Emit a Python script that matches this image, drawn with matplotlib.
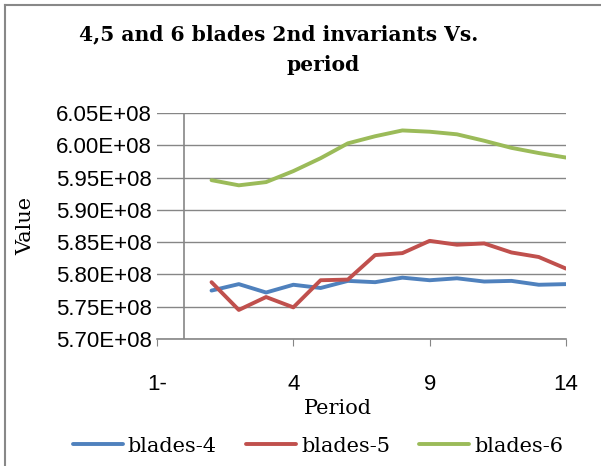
import matplotlib
matplotlib.use("Agg")
import matplotlib.pyplot as plt
from matplotlib.lines import Line2D

W, H = 601, 466

period   = list(range(1, 15))
blades_4 = [5.775, 5.785, 5.772, 5.784, 5.779, 5.790, 5.788, 5.795, 5.791, 5.794, 5.789, 5.790, 5.784, 5.785]
blades_5 = [5.788, 5.745, 5.765, 5.749, 5.791, 5.792, 5.830, 5.833, 5.852, 5.846, 5.848, 5.834, 5.827, 5.809]
blades_6 = [5.946, 5.938, 5.943, 5.960, 5.980, 6.003, 6.014, 6.023, 6.021, 6.017, 6.007, 5.996, 5.988, 5.981]
blades_4 = [v * 1e8 for v in blades_4]
blades_5 = [v * 1e8 for v in blades_5]
blades_6 = [v * 1e8 for v in blades_6]

y_ticks  = [5.70e8, 5.75e8, 5.80e8, 5.85e8, 5.90e8, 5.95e8, 6.00e8, 6.05e8]
y_labels = ["5.70E+08", "5.75E+08", "5.80E+08", "5.85E+08", "5.90E+08", "5.95E+08", "6.00E+08", "6.05E+08"]
x_ticks  = [-1, 4, 9, 14]
x_labels = ["1-", "4", "9", "14"]

COLORS = {"blades-4": "#4F81BD", "blades-5": "#C0504D", "blades-6": "#9BBB59"}
GRID = "#868686"
SERIF = "DejaVu Serif"
SANS = "Liberation Sans"

def fx(px): return px / W
def fy(py): return 1 - py / H

fig = plt.figure(figsize=(W / 100, H / 100), dpi=100)
ax = fig.add_axes([fx(157), fy(339), fx(566) - fx(157), fy(113) - fy(339)])

for name, vals in [("blades-4", blades_4), ("blades-5", blades_5), ("blades-6", blades_6)]:
    ax.plot(period, vals, color=COLORS[name], lw=2.8, label=name, solid_capstyle="round", zorder=3)

ax.set_xlim(-1, 14)
ax.set_ylim(5.70e8, 6.05e8)
ax.set_yticks(y_ticks)
ax.set_yticklabels(y_labels, family=SANS, fontsize=16)
ax.set_xticks(x_ticks)
ax.set_xticklabels(x_labels, family=SANS, fontsize=16)
ax.tick_params(axis="y", length=0, pad=4)
ax.tick_params(axis="x", length=5, color=GRID, pad=20)
ax.grid(axis="y", color=GRID, lw=1)
ax.axvline(0, color=GRID, lw=1.2, zorder=2)
for s in ["top", "right", "left"]:
    ax.spines[s].set_visible(False)
ax.spines["bottom"].set_color(GRID)
ax.spines["bottom"].set_linewidth(1.2)

fig.text(fx(279), fy(40), "4,5 and 6 blades 2nd invariants Vs.", ha="center", va="baseline",
         family=SERIF, fontweight="bold", fontsize=14.6)
fig.text(fx(323), fy(71), "period", ha="center", va="baseline",
         family=SERIF, fontweight="bold", fontsize=14.6)
fig.text(fx(26), fy(226), "Value", rotation=90, ha="center", va="center", family=SERIF, fontsize=15)
fig.text(fx(338), fy(408), "Period", ha="center", va="center", family=SERIF, fontsize=15)

fig.legend(loc="center", bbox_to_anchor=(fx(318), fy(446)), ncol=3, frameon=False,
           prop={"family": SERIF, "size": 15}, handlelength=2.4, handletextpad=0.25,
           columnspacing=1.4, borderaxespad=0, borderpad=0)

fig.add_artist(Line2D([fx(5), fx(5)], [0, fy(5)], color="#888888", lw=1.5))
fig.add_artist(Line2D([fx(5), 1], [fy(5), fy(5)], color="#888888", lw=1.5))

fig.savefig("out.png", dpi=100)
